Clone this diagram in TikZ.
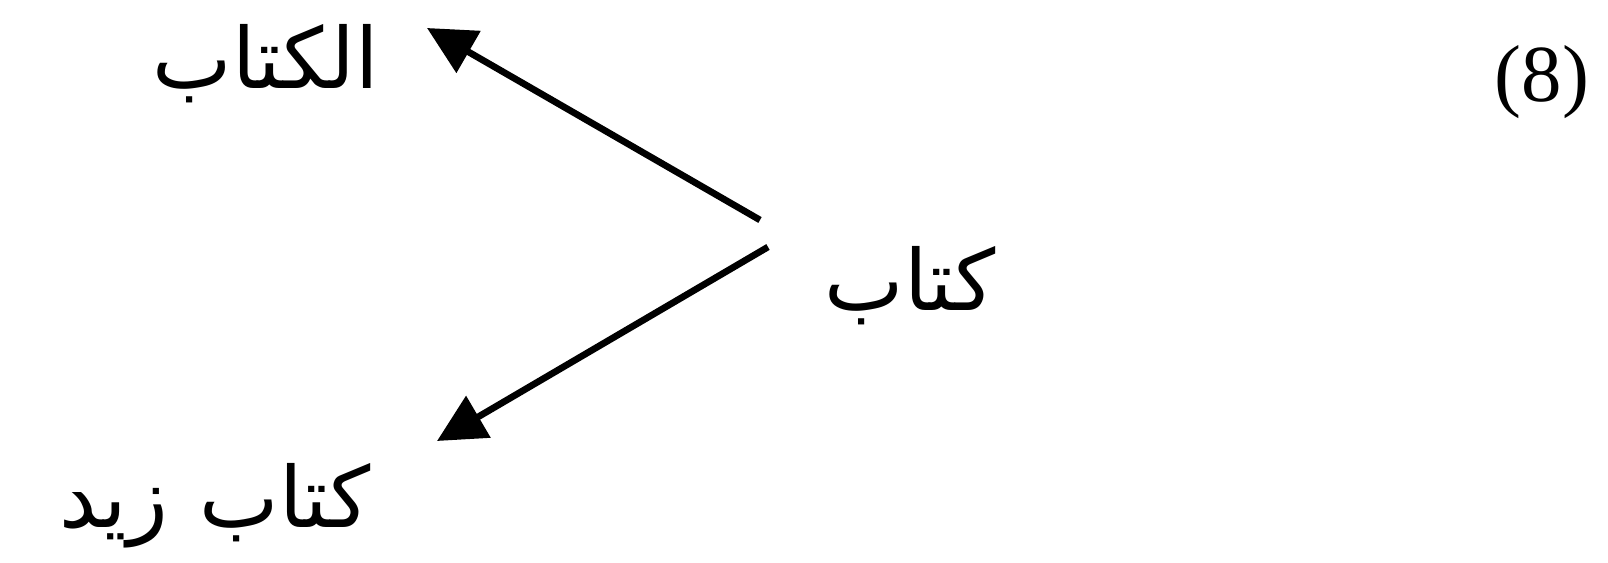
\documentclass[tikz,border=0pt]{standalone}
\usepackage{fontspec}
\setmainfont{Liberation Serif}
\newfontfamily\arabicfont[Script=Arabic]{DejaVu Sans}
\TeXXeTstate=1
\usetikzlibrary{arrows.meta,positioning}
\tikzset{
  word/.style={inner sep=0pt,anchor=base,font=\arabicfont\fontsize{24}{28}\selectfont},
  exnum/.style={inner sep=0pt,anchor=base,font=\fontsize{23}{27}\selectfont},
  derive/.style={-{Triangle[length=4.8mm,width=4.7mm]},line width=1.9pt},
}
\begin{document}
\begin{tikzpicture}[x=1cm,y=1cm]
  \useasboundingbox (0,0) rectangle (16.08,-5.63);
  \node[word] (base) at (9.10,-3.10) {\beginR كتاب\endR};
  \node[word] (defn) at (2.66,-0.89) {\beginR الكتاب\endR};
  \node[word] (poss) at (2.15,-5.27) {\beginR كتاب\hspace{0.32cm}زيد\endR};
  \node[exnum] (num) at (15.42,-1.02) {(8)};
  % arrow ends
  \coordinate (up)   at (7.60,-2.20);
  \coordinate (down) at (7.68,-2.47);
  \coordinate (upend)   at (4.27,-0.28);
  \coordinate (downend) at (4.37,-4.41);
  \draw[derive] (up) -- (upend);
  \draw[derive] (down) -- (downend);
\end{tikzpicture}
\end{document}
